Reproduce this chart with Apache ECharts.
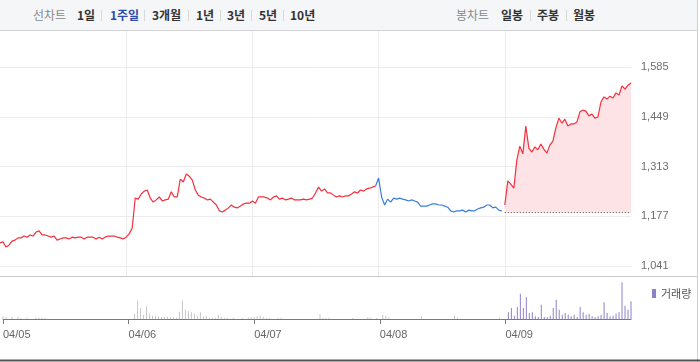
<!DOCTYPE html>
<html><head><meta charset="utf-8">
<script src="https://cdn.jsdelivr.net/npm/echarts@6/dist/echarts.min.js"></script>
<style>
html,body{margin:0;padding:0;background:#fff;}
#wrap{position:relative;width:700px;height:362px;overflow:hidden;font-family:"Noto Sans CJK KR","Noto Sans",sans-serif;}
#chart{position:absolute;left:0;top:0;width:700px;height:362px;}
#bar{position:absolute;left:0;top:0;width:697px;height:30px;background:#f5f6f8;border-bottom:1px solid #d4d4d6;border-right:1px solid #cfcfd2;z-index:2;}
#bar span{position:absolute;top:7px;font-size:12px;line-height:16px;color:#333;font-weight:bold;white-space:nowrap;}
#bar span.t{color:#888;font-weight:normal;}
#bar span.on{color:#2b4ca8;}
#bar i{position:absolute;top:10px;width:1px;height:11px;background:#d8d8d8;}
</style></head>
<body>
<div id="wrap">
  <div id="chart"></div>
  <div id="bar">
    <span class="t" style="left:33px">선차트</span>
    <span style="left:77px">1일</span><i style="left:101px"></i>
    <span class="on" style="left:110px">1주일</span><i style="left:144px"></i>
    <span style="left:152px">3개월</span><i style="left:188px"></i>
    <span style="left:196px">1년</span><i style="left:220px"></i>
    <span style="left:227px">3년</span><i style="left:251px"></i>
    <span style="left:259px">5년</span><i style="left:283px"></i>
    <span style="left:290px">10년</span>
    <span class="t" style="left:456px">봉차트</span>
    <span style="left:501px">일봉</span><i style="left:530px"></i>
    <span style="left:537px">주봉</span><i style="left:566px"></i>
    <span style="left:573px">월봉</span>
  </div>
</div>
<script>
const dayLabels = ['04/05','04/06','04/07','04/08','04/09'];
const yTicks = [1041, 1177, 1313, 1449, 1585];
const prevClose = 1187;

const priceDay1 = [1104,1107,1093,1098,1109,1112,1118,1118,1123,1120,1126,1123,1134,1137,1126,1126,1123,1120,1123,1112,1115,1118,1118,1115,1120,1118,1120,1120,1115,1120,1120,1120,1115,1120,1115,1120,1123,1123,1123,1120,1118,1115];
const priceDay2 = [1120,1129,1145,1227,1224,1238,1246,1249,1227,1216,1222,1230,1219,1222,1224,1244,1230,1230,1279,1271,1293,1287,1276,1249,1235,1230,1227,1222,1224,1216,1208,1192,1189,1194,1200,1208,1202,1200,1205,1211,1213,1213];
const priceDay3 = [1219,1213,1230,1230,1230,1227,1222,1230,1233,1224,1227,1222,1224,1227,1222,1222,1222,1224,1222,1224,1227,1241,1257,1246,1252,1241,1241,1235,1230,1233,1230,1233,1233,1238,1244,1241,1249,1246,1252,1254,1257,1260];
const priceDay4 = [1282,1230,1208,1224,1216,1227,1224,1227,1224,1222,1219,1222,1219,1216,1205,1205,1205,1208,1211,1211,1208,1208,1205,1202,1192,1189,1192,1192,1194,1189,1194,1192,1192,1197,1200,1202,1208,1208,1200,1202,1194,1192];
const priceDay5 = [1208,1274,1265,1254,1331,1369,1348,1424,1364,1353,1367,1359,1375,1361,1350,1372,1383,1419,1446,1432,1443,1424,1430,1430,1435,1463,1468,1465,1452,1457,1446,1449,1490,1504,1498,1506,1501,1515,1509,1534,1525,1536,1542];

const volDay1 = [2700,1700,0,2300,0,2300,1300,0,1300,0,0,1300,1300,1300,1000,0,0,0,0,0,0,0,0,0,0,0,0,0,0,0,0,0,0,0,0,0,0,0,0,0,0,0];
const volDay2 = [0,0,5300,18300,11000,4300,12700,5300,3300,3300,2700,2000,2000,2300,1700,1300,1300,7300,18300,9300,8000,6700,5300,3300,6700,2700,3300,1300,1300,1300,4300,2000,1300,1300,0,1300,0,0,1000,0,1300,1700];
const volDay3 = [2000,2700,3300,2000,1300,1300,0,0,1000,1300,0,0,0,0,0,0,0,0,0,0,0,0,4700,1300,1300,1300,0,0,0,0,0,0,0,1000,0,0,0,0,2000,1300,0,1000];
const volDay4 = [0,4300,3300,1700,0,0,0,0,0,0,0,0,0,0,2700,0,0,0,0,0,0,0,0,0,0,3300,1300,0,0,0,0,0,0,0,0,0,0,0,0,0,1300,0];
const volDay5 = [0,6700,11000,3300,12000,25300,11000,22000,6000,6700,2700,2000,14300,2000,2000,3300,11000,19300,9300,4300,6000,4300,2700,4300,2000,12000,6700,4300,5300,2700,2000,2700,4300,16700,6000,2700,3300,5300,6700,36700,13300,9300,17700];

// build category slots (42 per day, plus closing slot)
const PER = 42;
const cats = [];
dayLabels.forEach(d => { for (let k = 0; k < PER; k++) cats.push(d + ' ' + k); });
cats.push('close');
const N = cats.length;
const empty = () => new Array(N).fill(null);

const redA = empty();
[priceDay1, priceDay2, priceDay3].forEach((arr, d) => arr.forEach((v, k) => { redA[d * PER + k] = v; }));
const blue = empty();
blue[3 * PER - 1] = priceDay3[priceDay3.length - 1];
priceDay4.forEach((v, k) => { blue[3 * PER + k] = v; });
const redB = empty();
priceDay5.forEach((v, k) => { redB[4 * PER + k] = v; });

const volPast = empty();
[volDay1, volDay2, volDay3, volDay4].forEach((arr, d) => arr.forEach((v, k) => { volPast[d * PER + k] = v || null; }));
const volToday = empty();
volDay5.forEach((v, k) => { volToday[4 * PER + k] = v || null; });

const isDayStart = (i) => i % PER === 0 && i < N - 1;

// price grid geometry: 1041 at y=266, 1585 at y=67.3
const gTop = 31, gBot = 276;
const pxPer = (266 - 67.3) / (1585 - 1041);
const yMin = 1041 - (gBot - 266) / pxPer;
const yMax = 1585 + (67.3 - gTop) / pxPer;

const RED = '#f4303d', BLUE = '#3a7ddc';

const chart = echarts.init(document.getElementById('chart'), null, {renderer: 'canvas'});
chart.setOption({
  animation: false,
  backgroundColor: '#fff',
  grid: [
    {left: 0, top: gTop, width: 631, height: gBot - gTop},
    {left: 0, top: 281, width: 631, height: 38}
  ],
  legend: {
    data: [{name: '거래량', icon: 'rect'}],
    left: 647, top: 283, itemWidth: 4, itemHeight: 9, itemGap: 4,
    textStyle: {color: '#555', fontSize: 11, fontFamily: 'Noto Sans CJK KR'},
    selectedMode: false
  },
  xAxis: [
    {
      type: 'category', gridIndex: 0, data: cats, boundaryGap: false,
      axisLine: {show: false}, axisTick: {show: false}, axisLabel: {show: false},
      splitLine: {show: true, interval: (i) => isDayStart(i) && i > 0, lineStyle: {color: '#ececec', width: 1}}
    },
    {
      type: 'category', gridIndex: 1, data: cats, boundaryGap: false,
      axisLine: {show: true, lineStyle: {color: '#7a7a7a', width: 1}},
      axisTick: {show: true, interval: (i) => isDayStart(i), length: 5, lineStyle: {color: '#7a7a7a'}},
      axisLabel: {
        show: true, interval: (i) => isDayStart(i), align: 'left', margin: 10,
        color: '#666', fontSize: 11, fontFamily: 'Liberation Sans, Arial, sans-serif',
        formatter: (v) => v.split(' ')[0]
      },
      splitLine: {show: false}
    }
  ],
  yAxis: [
    {
      type: 'value', gridIndex: 0, position: 'right', min: yMin, max: yMax, scale: true,
      axisLine: {show: false},
      axisTick: {show: false, customValues: yTicks},
      axisLabel: {
        customValues: yTicks, margin: 10, color: '#6e6e6e', fontSize: 11,
        fontFamily: 'Liberation Sans, Arial, sans-serif',
        formatter: (v) => Math.round(v).toLocaleString('en-US')
      },
      splitLine: {show: true, lineStyle: {color: '#ececec', width: 1}}
    },
    {
      type: 'value', gridIndex: 1, min: 0, max: 38000, show: false,
      splitLine: {show: false}
    }
  ],
  series: [
    {
      name: 'priceA', type: 'line', xAxisIndex: 0, yAxisIndex: 0, data: redA,
      showSymbol: false, connectNulls: false, silent: true,
      lineStyle: {color: RED, width: 1.2}, itemStyle: {color: RED}
    },
    {
      name: 'priceB', type: 'line', xAxisIndex: 0, yAxisIndex: 0, data: blue,
      showSymbol: false, silent: true,
      lineStyle: {color: BLUE, width: 1.2}, itemStyle: {color: BLUE}
    },
    {
      name: 'priceC', type: 'line', xAxisIndex: 0, yAxisIndex: 0, data: redB,
      showSymbol: false, silent: true,
      lineStyle: {color: RED, width: 1.2}, itemStyle: {color: RED},
      areaStyle: {color: '#fde3e6', opacity: 1, origin: prevClose},
      markLine: {
        silent: true, symbol: 'none', label: {show: false},
        lineStyle: {color: '#555', type: [1, 2], width: 1},
        data: [[{coord: [cats[4 * PER], prevClose]}, {coord: [cats[N - 1], prevClose]}]]
      }
    },
    {
      name: 'volPast', type: 'bar', xAxisIndex: 1, yAxisIndex: 1, data: volPast,
      barWidth: 1, silent: true, itemStyle: {color: '#c6c6cb'}
    },
    {
      name: '거래량', type: 'bar', xAxisIndex: 1, yAxisIndex: 1, data: volToday,
      barWidth: 1, silent: true, barGap: '-100%', itemStyle: {color: '#9080c8'}
    }
  ],
  graphic: [
    {type: 'line', silent: true, shape: {x1: 0, y1: 276.5, x2: 697, y2: 276.5}, style: {stroke: '#c8c8ca', lineWidth: 1}},
    {type: 'line', silent: true, shape: {x1: 697.5, y1: 30, x2: 697.5, y2: 362}, style: {stroke: '#cfcfd2', lineWidth: 1}},
    {type: 'line', silent: true, shape: {x1: 0, y1: 360.5, x2: 700, y2: 360.5}, style: {stroke: '#555', lineWidth: 2}}
  ]
});
</script>
</body></html>
